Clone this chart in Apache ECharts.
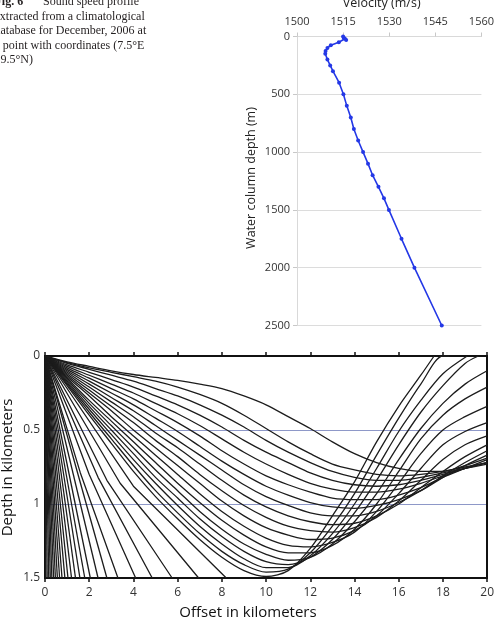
<!DOCTYPE html>
<html><head><meta charset="utf-8">
<script src="https://cdn.jsdelivr.net/npm/echarts@6/dist/echarts.min.js"></script>
<style>html,body{margin:0;padding:0;background:#fff;overflow:hidden}#c{width:497px;height:623px}</style>
</head><body><div id="c"></div>
<script>
// ---- Sound speed profile (top chart) ----
const depths = [0,10,20,30,50,75,100,125,150,200,250,300,400,500,600,700,800,900,1000,1100,1200,1300,1400,1500,1750,2000,2500];
const velocities = [1515.0,1515.2,1515.6,1516.0,1513.6,1511.0,1509.9,1509.3,1509.2,1509.9,1510.8,1511.7,1513.7,1515.1,1516.2,1517.5,1518.5,1519.9,1521.5,1523.1,1524.6,1526.5,1528.3,1529.9,1534.0,1538.2,1547.1];
const velocityTicks = [1500,1515,1530,1545,1560];
const depthTicks = [0,500,1000,1500,2000,2500];

// ---- Ray paths (bottom chart): [offset km, depth km] ----
const bottomRays = [
 [[0,0],[0.04,1.5]],[[0,0],[0.10,1.5]],[[0,0],[0.17,1.5]],[[0,0],[0.24,1.5]],
 [[0,0],[0.31,1.5]],[[0,0],[0.39,1.5]],[[0,0],[0.47,1.5]],[[0,0],[0.56,1.5]],
 [[0,0],[0.66,1.5]],[[0,0],[0.77,1.5]],[[0,0],[0.90,1.5]],[[0,0],[1.04,1.5]],
 [[0,0],[1.20,1.5]],[[0,0],[1.38,1.5]],[[0,0],[1.58,1.5]],[[0,0],[1.8,1.5]],
 [[0,0],[2.05,1.5]],[[0,0],[2.4,1.5]],[[0,0],[2.8,1.5]],
 [[0,0],[1.6,0.79],[3.3,1.5]],[[0,0],[2,0.8],[4.1,1.5]],[[0,0],[2.4,0.82],[4.85,1.5]],
 [[0,0],[2.8,0.84],[5.75,1.5]],[[0,0],[3.4,0.86],[6.95,1.5]],[[0,0],[4,0.88],[8.2,1.5]]
];
const turningRays = [
 [[0,0],[1,0.2],[2,0.4],[3,0.59],[4,0.78],[5,0.95],[6,1.1],[7,1.24],[8,1.36],[9,1.45],[10,1.49],[11,1.45],[12,1.3],[13,1.08],[14,0.85],[15,0.58],[16,0.34],[17,0.13],[17.6,0]],
 [[0,0],[1,0.19],[2,0.38],[3,0.56],[4,0.74],[5,0.91],[6,1.06],[7,1.2],[8,1.32],[9,1.41],[10,1.46],[11,1.44],[12,1.33],[13,1.15],[14,0.93],[15,0.67],[16,0.42],[17,0.19],[18,0],[18.3,0]],
 [[0,0],[1,0.18],[2,0.36],[3,0.53],[4,0.7],[5,0.86],[6,1.01],[7,1.15],[8,1.27],[9,1.37],[10,1.43],[11,1.43],[12,1.35],[13,1.2],[14,1.0],[15,0.76],[16,0.51],[17,0.3],[18,0.12],[19.1,0]],
 [[0,0],[1,0.17],[2,0.34],[3,0.5],[4,0.66],[5,0.82],[6,0.96],[7,1.1],[8,1.22],[9,1.32],[10,1.39],[11,1.41],[12,1.36],[13,1.24],[14,1.06],[15,0.84],[16,0.6],[17,0.38],[18,0.2],[19,0.05],[19.6,0]],
 [[0,0],[1,0.16],[2,0.32],[3,0.47],[4,0.62],[5,0.77],[6,0.91],[7,1.05],[8,1.17],[9,1.27],[10,1.34],[11,1.38],[12,1.36],[13,1.27],[14,1.12],[15,0.93],[16,0.7],[17,0.49],[18,0.32],[19,0.19],[20,0.1]],
 [[0,0],[1,0.15],[2,0.3],[3,0.44],[4,0.58],[5,0.72],[6,0.86],[7,0.99],[8,1.11],[9,1.21],[10,1.29],[11,1.33],[12,1.33],[13,1.28],[14,1.17],[15,1.0],[16,0.78],[17,0.56],[18,0.4],[19,0.29],[20,0.21]],
 [[0,0],[1,0.14],[2,0.27],[3,0.41],[4,0.54],[5,0.67],[6,0.8],[7,0.93],[8,1.05],[9,1.15],[10,1.23],[11,1.28],[12,1.29],[13,1.26],[14,1.19],[15,1.05],[16,0.86],[17,0.66],[18,0.5],[19,0.41],[20,0.34]],
 [[0,0],[1,0.13],[2,0.25],[3,0.37],[4,0.5],[5,0.62],[6,0.74],[7,0.86],[8,0.98],[9,1.08],[10,1.16],[11,1.21],[12,1.24],[13,1.23],[14,1.18],[15,1.08],[16,0.93],[17,0.76],[18,0.6],[19,0.51],[20,0.45]],
 [[0,0],[1,0.12],[2,0.23],[3,0.34],[4,0.45],[5,0.57],[6,0.68],[7,0.8],[8,0.91],[9,1.01],[10,1.09],[11,1.15],[12,1.18],[13,1.19],[14,1.16],[15,1.09],[16,0.98],[17,0.84],[18,0.7],[19,0.6],[20,0.54]],
 [[0,0],[1,0.11],[2,0.21],[3,0.31],[4,0.41],[5,0.52],[6,0.62],[7,0.73],[8,0.84],[9,0.94],[10,1.02],[11,1.08],[12,1.12],[13,1.14],[14,1.13],[15,1.08],[16,1.0],[17,0.89],[18,0.78],[19,0.68],[20,0.6]],
 [[0,0],[1,0.1],[2,0.19],[3,0.28],[4,0.37],[5,0.47],[6,0.57],[7,0.67],[8,0.77],[9,0.87],[10,0.95],[11,1.01],[12,1.06],[13,1.08],[14,1.08],[15,1.05],[16,0.99],[17,0.91],[18,0.81],[19,0.72],[20,0.64]],
 [[0,0],[1,0.09],[2,0.17],[3,0.25],[4,0.33],[5,0.42],[6,0.51],[7,0.61],[8,0.71],[9,0.8],[10,0.88],[11,0.94],[12,0.99],[13,1.02],[14,1.03],[15,1.01],[16,0.97],[17,0.91],[18,0.82],[19,0.74],[20,0.67]],
 [[0,0],[1,0.08],[2,0.15],[3,0.22],[4,0.29],[5,0.37],[6,0.45],[7,0.54],[8,0.64],[9,0.73],[10,0.81],[11,0.87],[12,0.92],[13,0.96],[14,0.97],[15,0.97],[16,0.94],[17,0.89],[18,0.82],[19,0.76],[20,0.7]],
 [[0,0],[1,0.07],[2,0.13],[3,0.19],[4,0.25],[5,0.32],[6,0.39],[7,0.47],[8,0.56],[9,0.65],[10,0.73],[11,0.8],[12,0.86],[13,0.9],[14,0.92],[15,0.92],[16,0.9],[17,0.86],[18,0.81],[19,0.76],[20,0.72]]
];
const shallowRays = [
 [[0,0],[1,0.06],[2,0.11],[3,0.16],[4,0.21],[5,0.27],[6,0.33],[7,0.4],[8,0.48],[9,0.57],[10,0.65],[11,0.72],[12,0.79],[13,0.84],[14,0.87],[15,0.88],[16,0.87],[17,0.84],[18,0.8],[19,0.76],[20,0.72]],
 [[0,0],[1,0.05],[2,0.09],[3,0.13],[4,0.17],[5,0.22],[6,0.27],[7,0.33],[8,0.4],[9,0.48],[10,0.57],[11,0.65],[12,0.72],[13,0.78],[14,0.82],[15,0.84],[16,0.84],[17,0.82],[18,0.79],[19,0.76],[20,0.73]],
 [[0,0],[1,0.045],[2,0.08],[3,0.11],[4,0.14],[5,0.17],[6,0.21],[7,0.26],[8,0.32],[9,0.4],[10,0.49],[11,0.58],[12,0.66],[13,0.73],[14,0.77],[15,0.8],[16,0.81],[17,0.8],[18,0.78],[19,0.75],[20,0.72]],
 [[0,0],[1,0.04],[2,0.07],[3,0.1],[4,0.125],[5,0.145],[6,0.165],[7,0.19],[8,0.22],[9,0.27],[10,0.33],[11,0.41],[12,0.49],[13,0.58],[14,0.66],[15,0.72],[16,0.76],[17,0.78],[18,0.78],[19,0.74],[20,0.69]]
];
const offsetTicks = [0,2,4,6,8,10,12,14,16,18,20];
const depthKmTicks = [0,0.5,1,1.5];

const chart = echarts.init(document.getElementById('c'), null, {renderer:'canvas'});
const SANS = '"Open Sans", sans-serif';
const SERIF = '"Liberation Serif", "DejaVu Serif", serif';
const rayStyle = {color:'#1c1c1c', width:1.3};
const series = [{
  type:'line', xAxisIndex:0, yAxisIndex:0,
  data: depths.map((d,i)=>[velocities[i], d]),
  symbol:'circle', symbolSize:4, showSymbol:true,
  lineStyle:{color:'#2438e6', width:1.6}, itemStyle:{color:'#2438e6'},
  animation:false, z:5
}];
bottomRays.forEach(r => series.push({
  type:'line', xAxisIndex:1, yAxisIndex:1, data:r, smooth:false,
  symbol:'none', lineStyle:rayStyle, clip:true, animation:false, silent:true
}));
[...turningRays, ...shallowRays].forEach(r => series.push({
  type:'line', xAxisIndex:1, yAxisIndex:1, data:r, smooth:0.3,
  symbol:'none', lineStyle:rayStyle, clip:true, animation:false, silent:true
}));

const captionLines = [
  ['extracted from a climatological', 16.5],
  ['database for December, 2006 at', 31],
  ['a point with coordinates (7.5°E', 45.5],
  ['39.5°N)', 60]
];
const graphics = [
  {type:'text', x:-5.5, y:2, style:{text:'Fig. 6', font:'bold 12px '+SERIF, fill:'#231f20', textVerticalAlign:'middle'}},
  {type:'text', x:43, y:2, style:{text:'Sound speed profile', font:'12px '+SERIF, fill:'#231f20', textVerticalAlign:'middle'}},
  ...captionLines.map(([t,y]) => ({type:'text', x:-5.5, y:y, style:{text:t, font:'12px '+SERIF, fill:'#231f20', textVerticalAlign:'middle'}})),
  {type:'text', x:381.7, y:3, style:{text:'Velocity (m/s)', font:'12.5px '+SANS, fill:'#222', textAlign:'center', textVerticalAlign:'middle'}},
  {type:'text', x:251.7, y:178, rotation:Math.PI/2, style:{text:'Water column depth (m)', font:'12.5px '+SANS, fill:'#222', textAlign:'center', textVerticalAlign:'middle'}},
  {type:'text', x:7.5, y:467.5, rotation:Math.PI/2, style:{text:'Depth in kilometers', font:'15px '+SANS, fill:'#111', textAlign:'center', textVerticalAlign:'middle'}},
  {type:'text', x:248, y:613, style:{text:'Offset in kilometers', font:'15px '+SANS, fill:'#111', textAlign:'center', textVerticalAlign:'middle'}}
];
const plain = v => String(v);

const option = {
  animation:false,
  backgroundColor:'#fff',
  grid:[
    {left:297, top:36.5, width:189, height:289},
    {left:45, top:356, width:444, height:222}
  ],
  xAxis:[
    {gridIndex:0, type:'value', position:'top', min:velocityTicks[0], max:velocityTicks[velocityTicks.length-1], interval:velocityTicks[1]-velocityTicks[0],
     axisLine:{show:true, lineStyle:{color:'#d9d9d9', width:1}}, axisTick:{show:true, length:4, lineStyle:{color:'#c8c8c8'}},
     axisLabel:{fontFamily:SANS, fontSize:11, color:'#333', margin:9, formatter:plain}, splitLine:{show:false}},
    {gridIndex:1, type:'value', position:'bottom', min:offsetTicks[0], max:offsetTicks[offsetTicks.length-1], interval:offsetTicks[1]-offsetTicks[0],
     axisLine:{show:true, onZero:false, lineStyle:{color:'#111', width:2}}, axisTick:{show:true, length:4, lineStyle:{color:'#111', width:1.5}},
     axisLabel:{fontFamily:SANS, fontSize:12, color:'#333', margin:9, formatter:plain}, splitLine:{show:false}},
    {gridIndex:1, type:'value', position:'top', min:0, max:20, interval:2,
     axisLine:{show:true, onZero:false, lineStyle:{color:'#111', width:2}}, axisTick:{show:true, length:4, lineStyle:{color:'#111', width:1.5}},
     axisLabel:{show:false}, splitLine:{show:false}}
  ],
  yAxis:[
    {gridIndex:0, type:'value', inverse:true, min:depthTicks[0], max:depthTicks[depthTicks.length-1], interval:depthTicks[1]-depthTicks[0],
     axisLine:{show:true, lineStyle:{color:'#d9d9d9', width:1}}, axisTick:{show:true, length:4, lineStyle:{color:'#c8c8c8'}},
     axisLabel:{fontFamily:SANS, fontSize:11, color:'#333', margin:7, formatter:plain}, splitLine:{show:true, lineStyle:{color:'#dcdcdc', width:1}}},
    {gridIndex:1, type:'value', inverse:true, min:depthKmTicks[0], max:depthKmTicks[depthKmTicks.length-1], interval:depthKmTicks[1]-depthKmTicks[0],
     axisLine:{show:true, onZero:false, lineStyle:{color:'#111', width:2}}, axisTick:{show:false},
     axisLabel:{fontFamily:SANS, fontSize:12, color:'#333', margin:5, formatter:plain}, splitLine:{show:true, lineStyle:{color:'#8e98c8', width:1}}},
    {gridIndex:1, type:'value', inverse:true, position:'right', min:0, max:1.5, interval:0.5,
     axisLine:{show:true, onZero:false, lineStyle:{color:'#111', width:2}}, axisTick:{show:false}, axisLabel:{show:false}, splitLine:{show:false}}
  ],
  graphic: graphics,
  series: series
};
chart.setOption(option);
</script></body></html>
